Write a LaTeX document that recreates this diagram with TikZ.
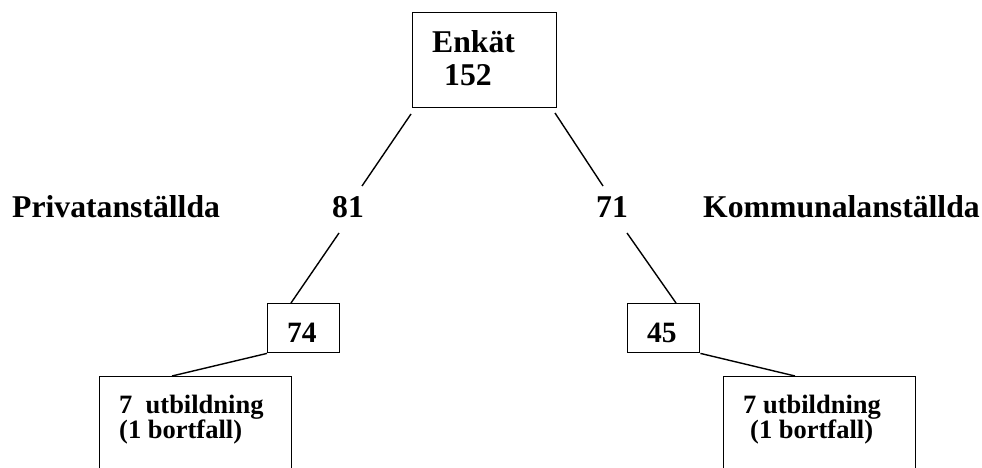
\documentclass[tikz,border=0pt]{standalone}
\usepackage{fontspec}
\setmainfont{Liberation Serif}
\begin{document}
\begin{tikzpicture}[x=1pt,y=-1pt,
  box/.style={draw, line width=1.4pt, rectangle, inner sep=0pt, anchor=north west},
  big/.style={font=\fontsize{31.7}{36}\selectfont\bfseries, inner sep=0pt, anchor=base west},
  mid/.style={font=\fontsize{29.5}{34}\selectfont\bfseries, inner sep=0pt, anchor=base west},
  small/.style={font=\fontsize{26.5}{30}\selectfont\bfseries, inner sep=0pt, anchor=base west},
  conn/.style={line width=1.4pt}]
\useasboundingbox (0,0) rectangle (982,468);
\clip (0,0) rectangle (982,468);
% boxes
\node[box, minimum width=144pt, minimum height=95pt] (top) at (412,12) {};
\node[box, minimum width=72pt, minimum height=49pt] (b74) at (267,303) {};
\node[box, minimum width=72pt, minimum height=49pt] (b45) at (627,303) {};
\node[box, minimum width=192pt, minimum height=120pt] (bl) at (99,376) {};
\node[box, minimum width=192pt, minimum height=120pt] (br) at (723,376) {};
% texts
\node[big] (enk) at (432,53) {Enkät};
\node[big] (n152) at (444,86) {152};
\node[big] (priv) at (12,217) {Privatanställda};
\node[big] (komm) at (703,217) {Kommunalanställda};
\node[big] (n81) at (332,217) {81};
\node[big] (n71) at (596,217) {71};
\node[mid] (n74) at (287,342) {74};
\node[mid] (n45) at (647,342) {45};
\node[small] (l1) at (119,413) {7\ \ utbildning};
\node[small] (l2) at (119,438) {(1 bortfall)};
\node[small] (r1) at (743,413) {7 utbildning};
\node[small] (r2) at (750,438) {(1 bortfall)};
% connector end points
\coordinate (a1) at (411,114);
\coordinate (a2) at (362,186);
\coordinate (a3) at (339,233);
\coordinate (c1) at (555,113);
\coordinate (c2) at (603,186);
\coordinate (c3) at (627,233);
% connectors
\draw[conn] (a1) -- (a2);
\draw[conn] (a3) -- (b74.north west -| 291,0);
\draw[conn] (c1) -- (c2);
\draw[conn] (c3) -- (b45.north west -| 676,0);
\draw[conn] (b74.south west) -- (bl.north west -| 172,0);
\draw[conn] (b45.south east) -- (br.north west -| 795,0);
\end{tikzpicture}
\end{document}
